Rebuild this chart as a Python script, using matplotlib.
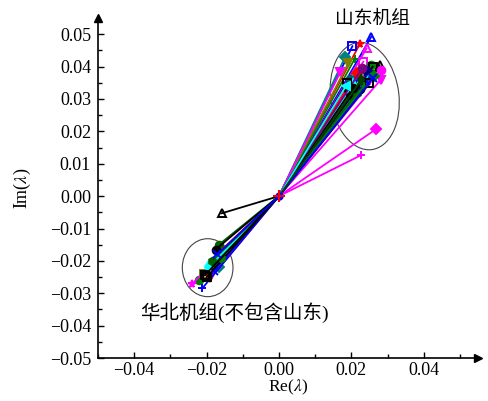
import numpy as np
import matplotlib.pyplot as plt
from matplotlib.patches import Ellipse

plt.rcParams['font.family'] = ['Liberation Serif', 'Noto Sans CJK SC']
plt.rcParams['mathtext.fontset'] = 'stix'

# upper cluster (山东机组) end points of eigenvalue traces
up_x = [0.0255, 0.0224, 0.0203, 0.0242, 0.0183, 0.0210, 0.0192, 0.0233, 0.0255, 0.0259,
        0.0278, 0.0282, 0.0237, 0.0215, 0.0170, 0.0282, 0.0197, 0.0210, 0.0237, 0.0192,
        0.0170, 0.0267, 0.0228, 0.0220, 0.0245, 0.0250, 0.0205, 0.0230, 0.0188, 0.0262,
        0.0225, 0.0240, 0.0200, 0.0215, 0.0250, 0.0235, 0.0205, 0.0260, 0.0185, 0.0228]
up_y = [0.0492, 0.0471, 0.0463, 0.0456, 0.0430, 0.0425, 0.0411, 0.0415, 0.0404, 0.0400,
        0.0404, 0.0391, 0.0391, 0.0379, 0.0384, 0.0360, 0.0363, 0.0353, 0.0367, 0.0327,
        0.0265, 0.0206, 0.0127, 0.0340, 0.0375, 0.0385, 0.0345, 0.0395, 0.0350, 0.0372,
        0.0330, 0.0355, 0.0310, 0.0320, 0.0350, 0.0340, 0.0335, 0.0365, 0.0340, 0.0360]
up_c = ['blue', 'red', 'blue', 'magenta', '#008080', 'green', '#808000', 'magenta', 'green', 'black',
        'black', 'magenta', 'blue', 'red', 'magenta', 'magenta', '#006060', 'blue', 'red', 'black',
        '#808000', 'magenta', 'magenta', 'green', 'cyan', 'navy', 'cyan', '#800080', 'black', 'green',
        'black', 'blue', 'black', '#006000', 'black', 'green', 'black', 'blue', 'cyan', '#004000']
up_m = ['^', '*', 's', '^', 'D', '+', 'v', 's', 'o', 's',
        '^', 'o', 'o', 'D', 'v', 'v', 'o', 'x', '^', 'p',
        'o', 'D', '+', 'h', '<', '>', 'd', 'o', 's', 'D',
        'o', 'x', 'p', 'h', 's', '+', 'o', 'x', '<', 'd']

# lower cluster (华北机组) end points
lo_x = [-0.0158, -0.0167, -0.0169, -0.0172, -0.0167, -0.0208, -0.0221, -0.0190, -0.0239, -0.0212,
        -0.0180, -0.0200, -0.0160, -0.0195, -0.0175, -0.0185, -0.0205, -0.0170]
lo_y = [-0.0053, -0.0151, -0.0177, -0.0198, -0.0218, -0.0239, -0.0259, -0.0254, -0.0270, -0.0285,
        -0.0230, -0.0250, -0.0190, -0.0220, -0.0165, -0.0200, -0.0245, -0.0180]
lo_c = ['black', '#006000', 'red', 'magenta', '#008080', '#808000', 'green', 'red', 'magenta', 'blue',
        'blue', 'black', 'green', 'cyan', 'black', '#006000', 'black', 'blue']
lo_m = ['^', 'o', '+', '*', 'D', 's', 'o', 'v', '*', '+',
        'x', 's', 'h', 'd', 'o', 'h', 's', 'x']

fig = plt.figure(figsize=(4.88, 4.01), dpi=100)
ax = fig.add_axes([0.2008, 0.1072, 0.7787, 0.8478])

for xs, ys, cs, ms in [(up_x, up_y, up_c, up_m), (lo_x, lo_y, lo_c, lo_m)]:
    for x, y, c, m in zip(xs, ys, cs, ms):
        filled = m not in ['^', 's'] or c == 'green'
        ax.plot([0, x], [0, y], color=c, lw=1.3)
        ax.plot(x, y, marker=m, color=c, ms=5.5, mew=1.4,
                mfc=c if filled else 'none')

# origin markers
ax.plot(0, 0, 'o', color='blue', ms=5)
ax.plot(0, 0, '+', color='red', ms=8, mew=1.5)

ax.add_patch(Ellipse((0.0237, 0.0309), 0.0189, 0.0333, angle=6, fill=False, ec='#444444', lw=0.8))
ax.add_patch(Ellipse((-0.0197, -0.0221), 0.0140, 0.0179, fill=False, ec='#444444', lw=0.8))

ax.text(0.0259, 0.0546, '山东机组', fontsize=13.5, ha='center', va='center')
ax.text(-0.0124, -0.0361, '华北机组(不包含山东)', fontsize=14, ha='center', va='center')

ax.set_xlim(-0.05, 0.055)
ax.set_ylim(-0.05, 0.055)
ax.set_xticks([-0.04, -0.02, 0.0, 0.02, 0.04])
ax.set_xticks(np.arange(-0.05, 0.051, 0.01), minor=True)
ax.set_yticks(np.arange(-0.05, 0.051, 0.01))
ax.set_yticks(np.arange(-0.045, 0.05, 0.01), minor=True)
ax.set_xticklabels(['\u22120.04', '\u22120.02', '0.00', '0.02', '0.04'])
ax.set_yticklabels(['\u22120.05', '\u22120.04', '\u22120.03', '\u22120.02', '\u22120.01',
                    '0.00', '0.01', '0.02', '0.03', '0.04', '0.05'])
ax.tick_params(which='both', direction='in', labelsize=13, width=1)
ax.tick_params(which='major', length=4)
ax.tick_params(axis='y', which='major', pad=5)
ax.tick_params(axis='x', which='major', pad=3)
ax.tick_params(which='minor', length=3)
ax.set_xlabel('Re($\\lambda$)', fontsize=12.5, labelpad=-1)
ax.set_ylabel('Im($\\lambda$)', fontsize=13, labelpad=12)

ax.spines['top'].set_visible(False)
ax.spines['right'].set_visible(False)
ax.spines['left'].set_linewidth(1.2)
ax.spines['bottom'].set_linewidth(1.2)
ax.plot(1, 0, '>k', ms=6, transform=ax.transAxes, clip_on=False)
ax.plot(0, 1, '^k', ms=6, transform=ax.transAxes, clip_on=False)

fig.savefig('out.png', dpi=100)
